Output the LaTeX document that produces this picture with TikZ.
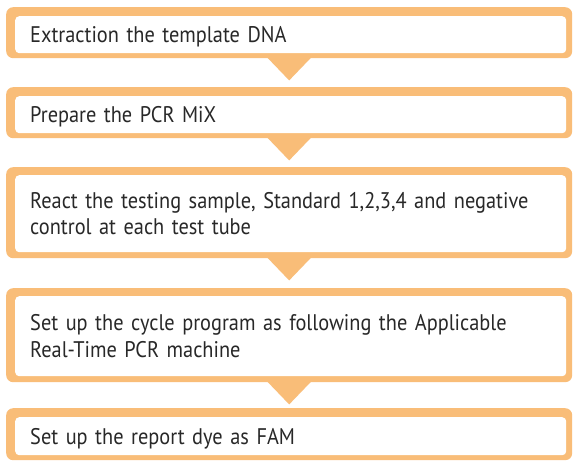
\documentclass[tikz,border=0pt]{standalone}
\usepackage{fontspec}
\setmainfont[FakeStretch=0.9]{PT Sans}
\usetikzlibrary{calc}
\definecolor{boxorange}{RGB}{249,189,120}
\definecolor{txtgray}{RGB}{40,40,40}
\tikzset{
  outerbox/.style={fill=boxorange, rounded corners=7pt, anchor=north west, inner sep=0pt},
  innerbox/.style={fill=white, rounded corners=4pt, anchor=north west, inner sep=0pt,
    text=txtgray, font=\fontsize{22.6}{26.5}\selectfont, align=left},
  oneline/.style={text depth=0pt, yshift=-1pt},
  arrowtri/.style={fill=boxorange},
}
\newcommand\flowbox[7]{% style, name, x1, y1, x2, y2, text
  \node[outerbox, minimum width=#5pt-#3pt, minimum height=#6pt-#4pt] (#2o) at (#3,#4) {};
  \node[innerbox, minimum width=#5pt-#3pt-15pt, minimum height=#6pt-#4pt-14pt,
        text width=#5pt-#3pt-45pt, #1] (#2) at (#3+9,#4+8) {#7};
}
\newcommand\flowtri[2]{% box outer name, apex name
  \coordinate (#2) at ($(#1.south)+(0,22)$);
  \fill[arrowtri] ($(#1.south)+(-25,-4)$) -- ($(#1.south)+(25,-4)$) -- (#2) -- cycle;
}
\begin{document}
\begin{tikzpicture}[x=1pt,y=-1pt]
\useasboundingbox (0,0) rectangle (575,466);
\fill[white] (0,0) rectangle (575,466);
\flowbox{oneline}{b1}{6}{7}{572}{58}{Extraction the template DNA}
\flowbox{oneline}{b2}{6}{87}{572}{138}{Prepare the PCR MiX}
\flowbox{}{b3}{6}{167}{572}{258}{React the testing sample, Standard 1,2,3,4 and negative\\control at each test tube}
\flowbox{}{b4}{6}{288}{572}{382}{Set up the cycle program as following the Applicable\\Real-Time PCR machine}
\flowbox{oneline}{b5}{6}{408}{572}{460}{Set up the report dye as FAM}
\flowtri{b1o}{t1}
\flowtri{b2o}{t2}
\flowtri{b3o}{t3}
\flowtri{b4o}{t4}
\end{tikzpicture}
\end{document}
